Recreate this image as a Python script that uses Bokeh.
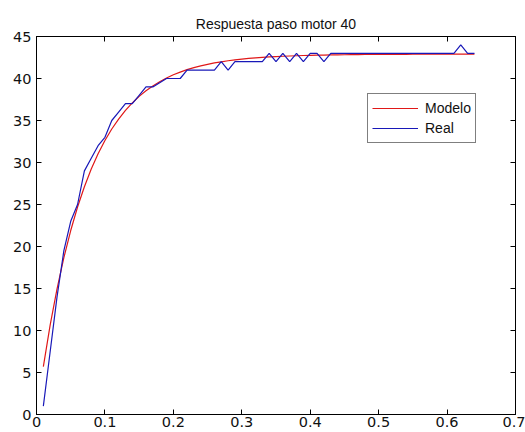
from bokeh.plotting import figure
from bokeh.models import (LinearAxis, FixedTicker, CustomJSTickFormatter, Range1d,
                          Legend, LegendItem)
from bokeh.embed import file_html
from bokeh.resources import INLINE

# ---- data ----
tiempo = [0.01, 0.02, 0.03, 0.04, 0.05, 0.06, 0.07, 0.08, 0.09, 0.10,
          0.11, 0.12, 0.13, 0.14, 0.15, 0.16, 0.17, 0.18, 0.19, 0.20,
          0.21, 0.22, 0.23, 0.24, 0.25, 0.26, 0.27, 0.28, 0.29, 0.30,
          0.31, 0.32, 0.33, 0.34, 0.35, 0.36, 0.37, 0.38, 0.39, 0.40,
          0.41, 0.42, 0.43, 0.44, 0.45, 0.46, 0.47, 0.48, 0.49, 0.50,
          0.51, 0.52, 0.53, 0.54, 0.55, 0.56, 0.57, 0.58, 0.59, 0.60,
          0.61, 0.62, 0.63, 0.64]

modelo = [5.71, 10.66, 14.95, 18.67, 21.90, 24.70, 27.12, 29.22, 31.04, 32.62,
          33.99, 35.17, 36.20, 37.09, 37.87, 38.54, 39.12, 39.62, 40.06, 40.44,
          40.76, 41.05, 41.30, 41.51, 41.69, 41.86, 41.99, 42.11, 42.22, 42.31,
          42.39, 42.46, 42.52, 42.57, 42.61, 42.65, 42.68, 42.71, 42.74, 42.76,
          42.78, 42.79, 42.81, 42.82, 42.83, 42.84, 42.85, 42.86, 42.86, 42.87,
          42.87, 42.88, 42.88, 42.88, 42.89, 42.89, 42.89, 42.89, 42.89, 42.90,
          42.90, 42.90, 42.90, 42.90]

real = [1, 7.5, 14, 19.5, 23, 25, 29, 30.5, 32, 33,
        35, 36, 37, 37, 38, 39, 39, 39.5, 40, 40,
        40, 41, 41, 41, 41, 41, 42, 41, 42, 42,
        42, 42, 42, 43, 42, 43, 42, 43, 42, 43,
        43, 42, 43, 43, 43, 43, 43, 43, 43, 43,
        43, 43, 43, 43, 43, 43, 43, 43, 43, 43,
        43, 44, 43, 43]

x_ticks = [0, 0.1, 0.2, 0.3, 0.4, 0.5, 0.6, 0.7]
y_ticks = [0, 5, 10, 15, 20, 25, 30, 35, 40, 45]
titulo = "Respuesta paso motor 40"
series_names = ["Modelo", "Real"]
series_colors = ["#e01818", "#1818b8"]

TEXT_FONT = "Liberation Sans"
TICK_FONT = "DejaVu Sans"

p = figure(width=525, height=432, output_backend="svg", toolbar_location=None,
           x_range=Range1d(0, 0.7), y_range=Range1d(0, 45),
           min_border_left=36, min_border_right=10, min_border_top=36,
           min_border_bottom=18, x_axis_type=None, y_axis_type=None)
p.background_fill_color = "white"
p.border_fill_color = "white"
p.outline_line_color = "black"
p.outline_line_width = 1
p.xgrid.visible = False
p.ygrid.visible = False

p.title.text = titulo
p.title.align = "center"
p.title.text_font = TEXT_FONT
p.title.text_font_size = "14px"
p.title.text_font_style = "normal"
p.title.text_color = "#111111"
p.title.standoff = 9

fmt = CustomJSTickFormatter(code="return tick.toString();")
blank = CustomJSTickFormatter(code="return '';")

def style_axis(ax, show_labels):
    ax.axis_line_color = "black"
    ax.axis_line_width = 1
    ax.major_tick_in = 5
    ax.major_tick_out = 0
    ax.minor_tick_in = 0
    ax.minor_tick_out = 0
    ax.major_tick_line_color = "black"
    ax.major_label_text_font = TICK_FONT
    ax.major_label_text_color = "#111111"
    ax.major_label_text_font_size = "14.5px"
    ax.major_label_standoff = 3 if show_labels else 0

xb = LinearAxis(ticker=FixedTicker(ticks=x_ticks), formatter=fmt)
style_axis(xb, True)
xb.major_label_standoff = 2
p.add_layout(xb, "below")
yl = LinearAxis(ticker=FixedTicker(ticks=y_ticks), formatter=fmt)
style_axis(yl, True)
yl.major_label_standoff = 5
p.add_layout(yl, "left")
xt = LinearAxis(ticker=FixedTicker(ticks=x_ticks), formatter=blank)
style_axis(xt, False)
p.add_layout(xt, "above")
yr = LinearAxis(ticker=FixedTicker(ticks=y_ticks), formatter=blank)
style_axis(yr, False)
p.add_layout(yr, "right")

r_mod = p.line(tiempo, modelo, line_color=series_colors[0], line_width=1.2)
r_real = p.line(tiempo, real, line_color=series_colors[1], line_width=1.2)

legend = Legend(items=[LegendItem(label=series_names[0], renderers=[r_mod]),
                       LegendItem(label=series_names[1], renderers=[r_real])],
                location=(331, 271))
legend.border_line_color = "black"
legend.border_line_width = 1
legend.background_fill_color = "white"
legend.background_fill_alpha = 1
legend.label_text_font = TEXT_FONT
legend.label_text_font_size = "14px"
legend.label_text_color = "#111111"
legend.padding = 4
legend.spacing = 0
legend.margin = 0
legend.label_height = 20
legend.glyph_height = 20
legend.glyph_width = 46
legend.label_standoff = 7
p.add_layout(legend, "center")

open("out.html", "w").write(file_html(p, INLINE))
